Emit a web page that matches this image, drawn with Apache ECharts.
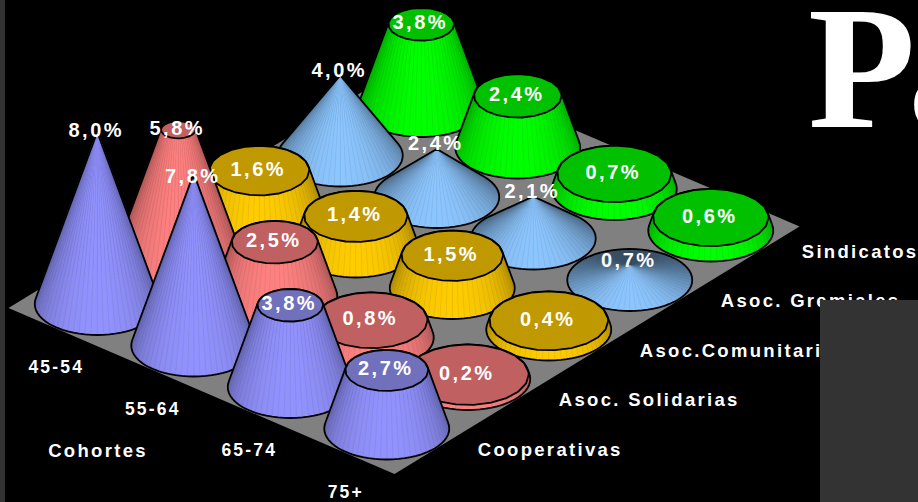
<!DOCTYPE html>
<html>
<head>
<meta charset="utf-8">
<style>
  html, body { margin: 0; padding: 0; background: #000; overflow: hidden; }
  #chart { width: 918px; height: 502px; }
  /* ECharts has no letter spacing option, the svg renderer lets css do it */
  #chart svg text { letter-spacing: 0.125em; }
  #chart svg text[style*="Serif"] { letter-spacing: -7px; }
</style>
<script src="https://cdn.jsdelivr.net/npm/echarts@6/dist/echarts.min.js"></script>
</head>
<body>
<div id="chart"></div>
<script>
const cohorts = ['45-54', '55-64', '65-74', '75+']
const categories = ['Cooperativas', 'Asoc. Solidarias', 'Asoc.Comunitarias', 'Asoc. Gremiales', 'Sindicatos']

const cooperativas = [8.0, 7.8, 3.8, 2.7]
const solidarias = [5.8, 2.5, 0.8, 0.2]
const comunitarias = [1.6, 1.4, 1.5, 0.4]
const gremiales = [4.0, 2.4, 2.1, 0.7]
const sindicatos = [3.8, 2.4, 0.7, 0.6]

const allValues = [cooperativas, solidarias, comunitarias, gremiales, sindicatos]
const MAX_VALUE = 8

const COLORS = [
  { bright: [146, 146, 255], top: '#7070bc' },
  { bright: [255, 128, 128], top: '#c06060' },
  { bright: [255, 204, 0], top: '#c09800' },
  { bright: [140, 198, 255], top: null },
  { bright: [0, 255, 0], top: '#00c000' },
]

// floor plane, the hidden grid is mapped on to it
const GRID = { left: 0, top: 0, width: 400, height: 400 }
const ORIGIN = [8.5, 308]
const STEP_COHORT = [96.5, 41.5]
const STEP_CATEGORY = [81, -49.5]
const PX_PER_UNIT = 21.5
const PX_PER_UNIT_POINTED = 20
const BASE_RX = 62.5
const BASE_RY = 31
const FACETS = 64

function project(api, c, k) {
  const p = api.coord([c, k])
  const u = (p[0] - GRID.left) / GRID.width * cohorts.length
  const v = (GRID.top + GRID.height - p[1]) / GRID.height * categories.length
  return [
    ORIGIN[0] + u * STEP_COHORT[0] + v * STEP_CATEGORY[0],
    ORIGIN[1] + u * STEP_COHORT[1] + v * STEP_CATEGORY[1],
  ]
}

function ring(cx, cy, rx, ry) {
  const pts = []
  for (let i = 0; i < FACETS; i++) {
    const a = i / FACETS * Math.PI * 2
    pts.push([cx + rx * Math.cos(a), cy + ry * Math.sin(a)])
  }
  return pts
}

function hull(points) {
  const pts = points.slice().sort((a, b) => a[0] - b[0] || a[1] - b[1])
  const cross = (o, a, b) => (a[0] - o[0]) * (b[1] - o[1]) - (a[1] - o[1]) * (b[0] - o[0])
  const half = list => {
    const out = []
    list.forEach(p => {
      while (out.length > 1 && cross(out[out.length - 2], out[out.length - 1], p) <= 0) out.pop()
      out.push(p)
    })
    out.pop()
    return out
  }
  return half(pts).concat(half(pts.slice().reverse()))
}

function shade(rgb, angle, extra) {
  const t = (1 + Math.sin(angle)) / 2
  const f = (0.38 + 0.62 * t) * extra
  return 'rgb(' + rgb.map(x => Math.round(x * f)).join(',') + ')'
}

function coneItem(seriesIndex) {
  const color = COLORS[seriesIndex]
  return (params, api) => {
    const c = api.value(0), k = api.value(1), v = api.value(2)
    const base = project(api, c, k)
    const topY = base[1] - v * (color.top ? PX_PER_UNIT : PX_PER_UNIT_POINTED)
    // pointed series run up to their own value, the others are cut off on the way to the max
    const ratio = color.top ? 1 - v / MAX_VALUE : 0
    const lower = ring(base[0], base[1], BASE_RX, BASE_RY)
    const upper = ring(base[0], topY, BASE_RX * ratio, BASE_RY * ratio)
    const order = lower.map((_, i) => i).sort((a, b) =>
      Math.sin((a + 0.5) / FACETS * Math.PI * 2) - Math.sin((b + 0.5) / FACETS * Math.PI * 2))
    const children = order.map(i => {
      const j = (i + 1) % FACETS
      const angle = (i + 0.5) / FACETS * Math.PI * 2
      return {
        type: 'polygon',
        shape: { points: [lower[i], lower[j], upper[j], upper[i]] },
        style: { fill: shade(color.bright, angle, 1), stroke: shade(color.bright, angle, 0.94), lineWidth: 0.6 },
      }
    })
    children.push({
      type: 'polygon',
      shape: { points: hull(lower.concat(upper)) },
      style: { fill: 'none', stroke: '#000', lineWidth: 1.8 },
    })
    if (color.top) {
      children.push({
        type: 'polygon',
        shape: { points: upper.filter((_, i) => i % 3 === 0) },
        style: { fill: color.top, stroke: '#000', lineWidth: 1.8 },
      })
    }
    return { type: 'group', children }
  }
}

function floorItem(params, api) {
  const lastC = cohorts.length - 0.5, lastK = categories.length - 0.5
  return {
    type: 'polygon',
    shape: { points: [
      project(api, -0.5, -0.5), project(api, lastC, -0.5),
      project(api, lastC, lastK), project(api, -0.5, lastK),
    ] },
    style: { fill: '#808080' },
  }
}

const VALUE_FONT = 'bold 20px "Liberation Sans", Arial, sans-serif'
const AXIS_FONT = 'bold 18.5px "Liberation Sans", Arial, sans-serif'
const COHORT_FONT = 'bold 17.5px "Liberation Sans", Arial, sans-serif'

function valueLabelItem(params, api) {
  const base = project(api, api.value(0), api.value(1))
  const v = api.value(2)
  const pointed = !COLORS[api.value(1)].top
  return {
    type: 'text',
    style: {
      text: v.toFixed(1).replace('.', ',') + '%',
      x: base[0] - 1,
      y: base[1] - v * (pointed ? PX_PER_UNIT_POINTED : PX_PER_UNIT) - (pointed ? 6 : 2),
      fill: '#fff', font: VALUE_FONT, align: 'center', verticalAlign: 'middle',
    },
  }
}

function cohortLabelItem(params, api) {
  const p = project(api, api.value(0), 0)
  return {
    type: 'text',
    style: {
      text: cohorts[params.dataIndex], x: p[0] - 41, y: p[1] + 63,
      fill: '#fff', font: COHORT_FONT, align: 'center', verticalAlign: 'middle',
    },
  }
}

function categoryLabelItem(params, api) {
  const p = project(api, cohorts.length - 1, api.value(1))
  return {
    type: 'text',
    style: {
      text: categories[params.dataIndex], x: p[0] + 91, y: p[1] + 20.5,
      fill: '#fff', font: AXIS_FONT, align: 'left', verticalAlign: 'middle',
    },
  }
}

const custom = (renderItem, data, extra) => Object.assign({
  type: 'custom', renderItem, data, clip: false, silent: true, animation: false,
}, extra)

const chart = echarts.init(document.getElementById('chart'), null, { renderer: 'svg' })

const cones = allValues.map((vals, k) =>
  custom(coneItem(k), vals.map((v, c) => [c, k, v]), { name: categories[k] })).reverse()

const valueLabels = allValues.flatMap((vals, k) => vals.map((v, c) => [c, k, v]))

chart.setOption({
  backgroundColor: '#000',
  animation: false,
  grid: GRID,
  xAxis: { type: 'value', min: -0.5, max: cohorts.length - 0.5, show: false },
  yAxis: { type: 'value', min: -0.5, max: categories.length - 0.5, show: false },
  series: [
    custom(floorItem, [[0, 0]]),
    ...cones,
    custom(valueLabelItem, valueLabels),
    custom(cohortLabelItem, cohorts.map((_, c) => [c, 0])),
    custom(categoryLabelItem, categories.map((_, k) => [0, k])),
  ],
  graphic: [
    { type: 'text', z: 100, x: 98, y: 450, style: { text: 'Cohortes', fill: '#fff', font: AXIS_FONT, align: 'center', verticalAlign: 'middle' } },
    { type: 'rect', z: 100, shape: { x: 820, y: 300, width: 98, height: 202 }, style: { fill: '#333' } },
    { type: 'rect', z: 100, shape: { x: 0, y: 0, width: 5, height: 502 }, style: { fill: '#333' } },
    { type: 'text', z: 100, x: 808, y: -21, style: { text: 'Pa', fill: '#fff', font: 'bold 176px "Liberation Serif", serif', align: 'left' } },
  ],
})
</script>
</body>
</html>
